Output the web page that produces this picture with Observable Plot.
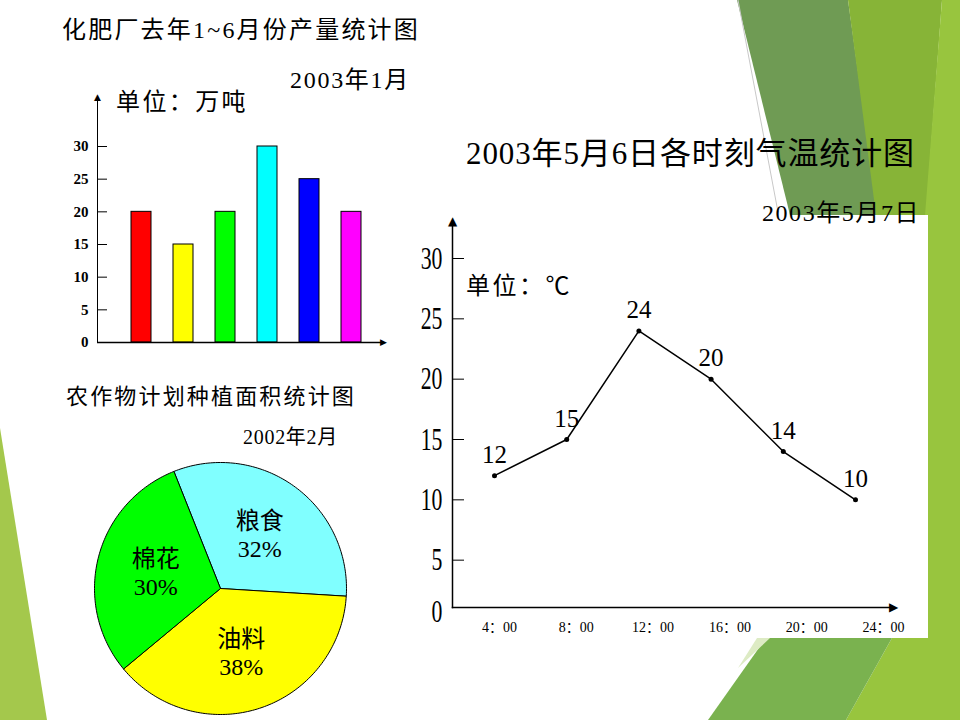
<!DOCTYPE html>
<html><head><meta charset="utf-8">
<script src="https://cdn.jsdelivr.net/npm/d3@7"></script>
<script src="https://cdn.jsdelivr.net/npm/@observablehq/plot@0.6"></script>
<style>
body{margin:0;background:#fff;}
#page{position:relative;width:960px;height:720px;overflow:hidden;background:#fff;}
#page svg{position:absolute;left:0;top:0;}
.t{position:absolute;white-space:nowrap;color:#000;line-height:1;font-family:"Liberation Serif","Noto Sans CJK SC",serif;}
</style></head>
<body><div id="page">
<svg id="deco" width="960" height="720">
  <polygon points="0,428 47,720 0,720" fill="#A4C84C"/>
  <polygon points="737,0 848,0 878,215 790,215" fill="#6F9B54"/>
  <polygon points="848,0 942,0 926,215 876,215" fill="#87B437"/>
  <polygon points="942,0 960,0 960,720 846,720 892,638 928,638 928,215 925,215" fill="#98C53E"/>
  <polygon points="708,720 766,638 892,638 846,720" fill="#7AB24F"/>
  <polygon points="738,668 757,638 770,638" fill="#DDEBC4"/>
  <line x1="738" y1="0" x2="778" y2="212" stroke="#C8C8C8" stroke-width="1"/>
  <rect x="400" y="215" width="528" height="423" fill="#fff"/>
</svg>
</div>
<script>
// ---------- data ----------
const months = ["1月","2月","3月","4月","5月","6月"];
const output = [20, 15, 20, 30, 25, 20];
const barColors = ["#FF0000","#FFFF00","#00FF00","#00FFFF","#0000FF","#FF00FF"];
const barTicks = [0, 5, 10, 15, 20, 25, 30];

const hours = [4, 8, 12, 16, 20, 24];
const hourLabels = ["4：00","8：00","12：00","16：00","20：00","24：00"];
const temps = [12, 15, 24, 20, 14, 10];
const tempTicks = [5, 10, 15, 20, 25, 30];

const crops = ["粮食","油料","棉花"];
const shares = [32, 38, 30];
const cropColors = ["#80FFFF","#FFFF00","#00FF00"];

// ---------- helpers ----------
const page = document.getElementById("page");
const FONT = "Liberation Serif, Noto Sans CJK SC, serif";
const base = {width:960, height:720, style:{background:"transparent", overflow:"visible"}};
const arrowUp = (o={}) => Plot.text(["▲"], {frameAnchor:"top-left", text:d=>d, textAnchor:"middle", lineAnchor:"middle", fontSize:10, fontFamily:"DejaVu Sans", fill:"#000", ...o});
const arrowRight = (o={}) => Plot.text(["▶"], {frameAnchor:"bottom-right", text:d=>d, textAnchor:"middle", lineAnchor:"middle", fontSize:10, fontFamily:"DejaVu Sans", fill:"#000", ...o});

// ---------- bar chart ----------
const barData = months.map((m,i)=>({month:m, value:output[i]}));
const bar = Plot.plot({
  ...base,
  marginLeft:97, marginRight:577, marginTop:97, marginBottom:378,
  x:{type:"band", domain:months, range:[118.8,373.2], padding:0, axis:null},
  y:{domain:[0,30], range:[342,146], axis:null},
  color:{domain:months, range:barColors},
  marks:[
    Plot.barY(barData, {x:"month", y:"value", fill:"month", stroke:"#000", strokeWidth:1, insetLeft:11, insetRight:11}),
    Plot.tickY(barTicks.filter(d=>d>0), {y:d=>d, stroke:"#000", insetRight:276}),
    Plot.axisY(barTicks, {anchor:"left", tickSize:0, tickPadding:9, fontSize:15, fontWeight:"bold", fontFamily:FONT, label:null}),
    Plot.frame({anchor:"left", stroke:"#000"}),
    Plot.ruleY([0], {stroke:"#000", strokeWidth:1.5}),
    arrowUp({fontSize:9}),
    arrowRight({fontSize:9})
  ]
});
page.appendChild(bar);

// ---------- line chart ----------
const lineData = hours.map((h,i)=>({hour:h, temp:temps[i]}));
const line = Plot.plot({
  ...base,
  marginLeft:452, marginRight:67, marginTop:221, marginBottom:113,
  x:{domain:[4,24], range:[494,855], axis:null},
  y:{domain:[0,30], range:[620,258], axis:null},
  marks:[
    Plot.frame({anchor:"left", stroke:"#000", strokeWidth:1.5}),
    Plot.frame({anchor:"bottom", stroke:"#000", strokeWidth:1.5}),
    Plot.tickY(tempTicks, {y:d=>d, stroke:"#000", insetRight:429}),
    Plot.axisY(tempTicks, {anchor:"left", tickSize:0, tickPadding:10, fontSize:32, fontFamily:FONT, label:null}),
    Plot.text(["0"], {frameAnchor:"bottom-left", text:d=>d, textAnchor:"end", lineAnchor:"middle", dx:-10, dy:4, fontSize:32, fontFamily:FONT}),
    Plot.line(lineData, {x:"hour", y:"temp", stroke:"#000", strokeWidth:1.5}),
    Plot.dot(lineData, {x:"hour", y:"temp", r:2.5, fill:"#000"}),
    Plot.text(lineData, {x:"hour", y:"temp", text:d=>String(d.temp), dy:-21, fontSize:25, fontFamily:FONT, fill:"#000"}),
    arrowUp({fontSize:12}),
    arrowRight({fontSize:12})
  ]
});
// condensed tall digits on the y axis
line.querySelectorAll("g[font-size='32'] text").forEach(t=>{
  const tr = t.getAttribute("transform");
  if (tr) t.setAttribute("transform", tr + " scale(0.68,1)");
});
page.appendChild(line);

const lineX = Plot.plot({
  ...base,
  marginLeft:452, marginRight:67, marginTop:221, marginBottom:113,
  x:{domain:[4,24], range:[499,883], axis:null},
  marks:[
    Plot.axisX(hours, {anchor:"bottom", tickSize:0, tickPadding:15, tickFormat:d=>hourLabels[hours.indexOf(d)], fontSize:14, fontFamily:FONT, label:null})
  ]
});
page.appendChild(lineX);

// ---------- pie chart ----------
const pieData = crops.map((c,i)=>({crop:c, share:shares[i]}));
const start = -21.7 * Math.PI/180;
const arcs = d3.pie().sort(null).value(d=>d.share).startAngle(start).endAngle(start+2*Math.PI)(pieData);
const wedges = arcs.flatMap(a=>{
  const n = Math.ceil((a.endAngle-a.startAngle)/0.02);
  const pts = [{crop:a.data.crop, x:0, y:0}];
  for (let k=0;k<=n;k++){ const t=a.startAngle+(a.endAngle-a.startAngle)*k/n; pts.push({crop:a.data.crop, x:Math.sin(t), y:Math.cos(t)}); }
  pts.push({crop:a.data.crop, x:0, y:0});
  return pts;
});
const pieLabels = arcs.map(a=>{ const m=(a.startAngle+a.endAngle)/2; return {x:0.53*Math.sin(m), y:0.53*Math.cos(m), label:a.data.crop+"\n"+a.data.share+"%"}; });
const pie = Plot.plot({
  ...base,
  marginLeft:94, marginRight:614, marginTop:462, marginBottom:6,
  x:{domain:[-1,1], range:[94,346], axis:null},
  y:{domain:[-1,1], range:[714,462], axis:null},
  color:{domain:crops, range:cropColors},
  marks:[
    Plot.line(wedges, {x:"x", y:"y", z:"crop", fill:"crop", stroke:"#000", strokeWidth:1, curve:"linear"}),
    Plot.text(pieLabels, {x:"x", y:"y", text:"label", fontSize:24, lineHeight:1.15, fontFamily:FONT, fill:"#000"})
  ]
});
page.appendChild(pie);

// ---------- titles ----------
function place(txt, left, right, cy, size){
  const d = document.createElement("div");
  d.className = "t"; d.textContent = txt;
  d.style.fontSize = size+"px"; d.style.left = left+"px"; d.style.top = (cy - size/2)+"px";
  page.appendChild(d);
  const w = d.getBoundingClientRect().width;
  const n = [...txt].length;
  d.style.letterSpacing = ((right-left) - w)/n + "px";
}
place("化肥厂去年1~6月份产量统计图", 62, 420, 30, 24);
place("2003年1月", 290, 410, 80, 24);
place("单位：万吨", 116, 248, 102, 24);
place("2003年5月6日各时刻气温统计图", 466, 915, 153, 31);
place("2003年5月7日", 762, 920, 213, 24);
place("单位：℃", 466, 572, 286, 24);
place("农作物计划种植面积统计图", 66, 356, 397, 22);
place("2002年2月", 243, 338, 437, 20);
</script>
</body></html>
